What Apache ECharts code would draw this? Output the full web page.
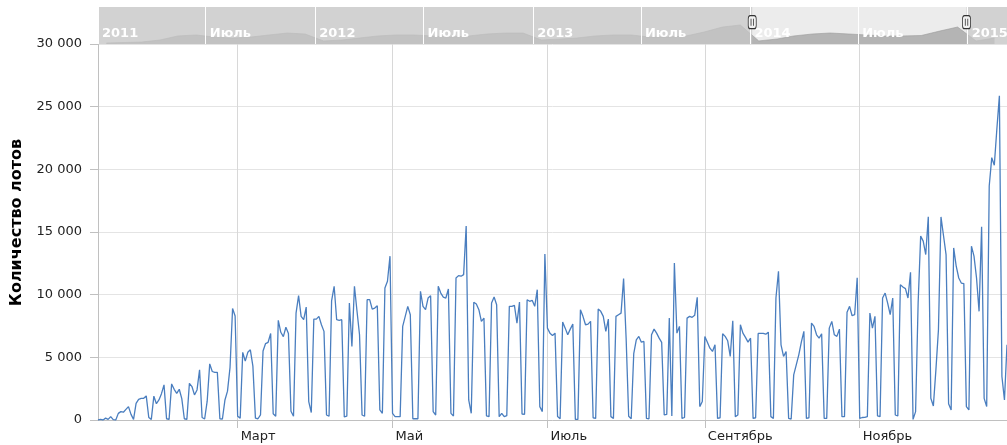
<!DOCTYPE html>
<html><head><meta charset="utf-8">
<script src="https://cdn.jsdelivr.net/npm/echarts@6/dist/echarts.min.js"></script>
<style>html,body{margin:0;padding:0;background:#fff}#c{width:1007px;height:445px}</style>
</head><body><div id="c"></div>
<script>
// ---------- data (daily lots, 2014) ----------
const START = '2014-01-05';
const jan = [0, 50, 0, 150, 50, 270, 30, 0, 530, 670, 620, 850, 1070, 450, 50, 1330, 1650, 1730, 1730, 1920, 200, 50, 1900, 1300, 1600, 2100, 2800];
const feb = [100, 50, 2880, 2450, 2130, 2450, 1700, 100, 50, 2930, 2670, 2000, 2400, 4000, 200, 80, 1500, 4480, 3870, 3800, 3800, 100, 80, 1600, 2300, 4200, 8900, 8300];
const mar = [300, 150, 5400, 4700, 5400, 5600, 4300, 150, 100, 400, 5500, 6100, 6200, 6900, 500, 300, 7950, 7000, 6650, 7400, 6900, 700, 300, 8530, 9920, 8270, 8000, 9010, 1470, 590, 8050];
const apr = [8050, 8270, 7600, 7070, 400, 300, 9500, 10670, 8000, 7950, 8000, 250, 300, 9330, 5870, 10670, 8700, 6800, 400, 300, 9600, 9600, 8850, 8930, 9120, 800, 530, 10530, 11070, 13070];
const may = [530, 270, 270, 270, 7470, 8270, 9070, 8400, 100, 100, 100, 10270, 9070, 8800, 9730, 9920, 670, 400, 10670, 10130, 9800, 9730, 10450, 530, 320, 11330, 11520, 11470, 11600, 15470, 1600];
const jun = [530, 9390, 9250, 8800, 7870, 8130, 320, 270, 9330, 9810, 9200, 270, 530, 270, 350, 9070, 9070, 9150, 7730, 9410, 480, 450, 9600, 9470, 9550, 9070, 10400, 1070, 670, 13250];
const jul = [7330, 6930, 6750, 6930, 270, 100, 7810, 7330, 6800, 7250, 7650, 50, 50, 8800, 8270, 7600, 7650, 7870, 180, 130, 8850, 8670, 8270, 7070, 8050, 270, 130, 8270, 8400, 8530, 11280];
const aug = [6500, 300, 100, 5300, 6400, 6670, 6210, 6270, 130, 100, 6800, 7250, 6930, 6530, 6190, 400, 450, 8130, 320, 12530, 6930, 7470, 130, 200, 8130, 8270, 8190, 8350, 9790, 1070, 1470];
const sep = [6670, 6210, 5730, 5470, 6000, 130, 180, 6880, 6670, 6320, 5070, 7920, 270, 400, 7600, 6930, 6590, 6210, 6530, 130, 180, 6910, 6910, 6910, 6850, 7010, 270, 130, 9730, 11870];
const oct = [6000, 5070, 5470, 130, 80, 3600, 4400, 5200, 6210, 7070, 130, 180, 7730, 7470, 6800, 6530, 6880, 130, 130, 7330, 7870, 6800, 6670, 7250, 270, 270, 8600, 9070, 8320, 8400, 11350];
const nov = [130, 200, 210, 270, 8530, 7330, 8270, 320, 270, 9730, 10130, 9330, 8400, 9730, 400, 320, 10800, 10610, 10480, 9730, 11790, 50, 670, 9330, 14670, 14270, 13200, 16210, 1730, 1120];
const dec = [4000, 7200, 16200, 14700, 13200, 1300, 800, 13730, 12270, 11330, 10930, 10880, 1070, 800, 13870, 13070, 11330, 8670, 15410, 1730, 1070, 18670, 20930, 20320, 23200, 25870, 3470, 1600, 6000];

const monthNames = ['Январь','Февраль','Март','Апрель','Май','Июнь','Июль','Август','Сентябрь','Октябрь','Ноябрь','Декабрь'];
const halfYearLabel = 'Июль';

// navigator (overview strip), monthly levels from Jan 2011 to Feb 2015
const NAV_START = '2011-01-01';
const NAV_END = '2015-03-08';
const navMonthly = [
  900, 1400, 1800, 3700, 7400, 8300, 6400, 5500, 6400, 8300, 10100, 9200,
  2800, 3700, 5500, 7400, 8300, 8300, 7400, 6400, 7400, 9200, 10100, 10100,
  3700, 4600, 5500, 7400, 8300, 8300, 6400, 6400, 7400, 11000, 15600, 17500,
  2800, 4600, 7400, 9200, 10100, 9200, 8300, 7400, 7400, 7800, 11900, 15600,
  2800, 5500
];
const SEL_START = '2014-01-04';
const SEL_END = '2014-12-30';

const Y_MIN = 0, Y_MAX = 30000, Y_STEP = 5000;

// ---------- helpers ----------
const DAY = 86400000;
const toMs = s => Date.parse(s + 'T00:00:00Z');
const ymd = ms => new Date(ms).toISOString().slice(0, 10);

const values = [].concat(jan, feb, mar, apr, may, jun, jul, aug, sep, oct, nov, dec);
const dates = values.map((v, i) => ymd(toMs(START) + i * DAY));

const navDates = [];
for (let t = toMs(NAV_START); t <= toMs(NAV_END); t += DAY) navDates.push(ymd(t));
const navIdx = s => Math.round((toMs(s) - toMs(NAV_START)) / DAY);
const navData = navMonthly.map((v, i) => {
  const ms = Date.UTC(2011, i, 15);
  return [Math.round((ms - toMs(NAV_START)) / DAY), v];
});

const isMonthTick = (i, val) => val.slice(8) === '01' && (parseInt(val.slice(5, 7), 10) - 1) % 2 === 0;
const monthLabel = val => monthNames[parseInt(val.slice(5, 7), 10) - 1];
const isHalfYear = (i, val) => val.slice(5) === '01-01' || val.slice(5) === '07-01';
const navLabel = val => val.slice(5) === '01-01' ? val.slice(0, 4) : halfYearLabel;
const fmtNum = v => String(v).replace(/\B(?=(\d{3})+(?!\d))/g, ' ');

const FONT = 'DejaVu Sans';
const chart = echarts.init(document.getElementById('c'));
chart.setOption({
  animation: false,
  backgroundColor: '#ffffff',
  textStyle: { fontFamily: FONT },
  grid: [
    { left: 98, right: 0, top: 44, bottom: 25, containLabel: false, outerBoundsMode: 'none' },
    { left: 98, right: 0, top: 7, height: 37, show: true, backgroundColor: '#ececec', borderWidth: 0, containLabel: false, outerBoundsMode: 'none' }
  ],
  xAxis: [
    {
      type: 'category', gridIndex: 0, data: dates, boundaryGap: false,
      axisLine: { lineStyle: { color: '#c0c0c0' } },
      axisTick: { show: true, interval: isMonthTick, length: 8, lineStyle: { color: '#c0c0c0' } },
      axisLabel: { interval: isMonthTick, formatter: monthLabel, align: 'left', padding: [0, 0, 0, 3], margin: 10, color: '#222', fontSize: 13, fontFamily: FONT },
      splitLine: { show: true, interval: isMonthTick, lineStyle: { color: '#d8d8d8' } }
    },
    {
      type: 'category', gridIndex: 1, data: navDates, boundaryGap: false, z: 20,
      axisLine: { show: false },
      axisTick: { show: false, interval: isHalfYear },
      axisLabel: { inside: true, interval: isHalfYear, formatter: navLabel, align: 'left', padding: [0, 0, 0, 4], margin: 4, color: '#ffffff', fontWeight: 'bold', fontSize: 13, fontFamily: FONT },
      splitLine: { show: true, interval: isHalfYear, lineStyle: { color: '#ffffff', width: 1 } }
    }
  ],
  yAxis: [
    {
      type: 'value', gridIndex: 0, min: Y_MIN, max: Y_MAX, interval: Y_STEP,
      name: 'Количество лотов', nameLocation: 'middle', nameGap: 73, nameRotate: 90,
      nameTextStyle: { fontWeight: 'bold', fontSize: 16, color: '#000', fontFamily: FONT, padding: [0, 0, 0, 19] },
      axisLine: { show: true, lineStyle: { color: '#c0c0c0' } },
      axisTick: { show: true, length: 8, lineStyle: { color: '#c0c0c0' } },
      axisLabel: { formatter: fmtNum, margin: 16, color: '#222', fontSize: 13, fontFamily: FONT },
      splitLine: { show: true, lineStyle: { color: '#e4e4e4' } }
    },
    { type: 'value', gridIndex: 1, min: 0, max: 34000, show: false }
  ],
  series: [
    {
      type: 'line', xAxisIndex: 0, yAxisIndex: 0, data: values,
      showSymbol: false, symbol: 'none', silent: true,
      lineStyle: { color: '#4a7ebf', width: 1.3 }, z: 3
    },
    {
      type: 'line', xAxisIndex: 1, yAxisIndex: 1, data: navData,
      showSymbol: false, symbol: 'none', silent: true, z: 2,
      lineStyle: { width: 0.6, color: '#9a9a9a' },
      areaStyle: { color: '#b4b4b4', opacity: 1 },
      markArea: {
        silent: true, z: 10,
        itemStyle: { color: 'rgba(200,200,200,0.7)' },
        data: [
          [{ xAxis: 0 }, { xAxis: navIdx(SEL_START) }],
          [{ xAxis: navIdx(SEL_END) }, { xAxis: navDates.length - 1 }]
        ]
      },
      markPoint: {
        silent: true, z: 30,
        symbol: 'roundRect', symbolSize: [8, 13],
        itemStyle: { color: '#f2f2f2', borderColor: '#333', borderWidth: 1 },
        label: { show: true, formatter: '||', color: '#333', fontSize: 7, fontWeight: 'bold', position: 'inside' },
        data: [
          { coord: [navIdx(SEL_START), 20000] },
          { coord: [navIdx(SEL_END), 20000] }
        ]
      }
    }
  ]
});
</script>
</body></html>
